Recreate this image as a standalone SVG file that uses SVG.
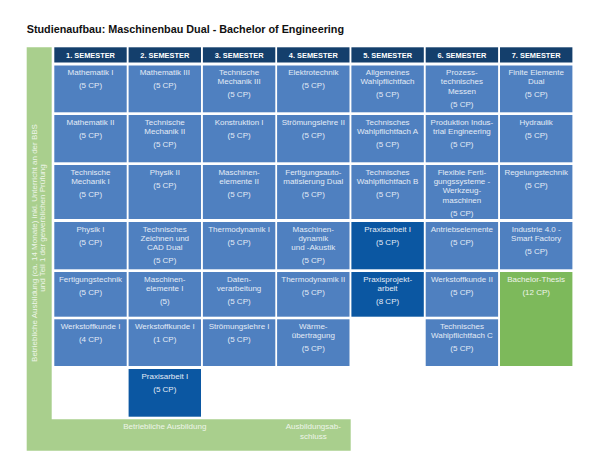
<svg xmlns="http://www.w3.org/2000/svg" width="600" height="456" viewBox="0 0 600 456">
<style>
.bg{fill:#ffffff}
.hd{fill:#143f6c}
.c{fill:#4f80c0}
.d{fill:#0b57a2}
.g{fill:#7db95b}
.lg{fill:#a9cf8d}
.ht{font-family:"Liberation Sans",Arial,sans-serif;font-size:7.4px;font-weight:bold;fill:#ffffff;text-anchor:middle}
.t{font-family:"Liberation Sans",Arial,sans-serif;font-size:8px;fill:#e3ebf6;text-anchor:middle}
.gt{font-family:"Liberation Sans",Arial,sans-serif;font-size:8px;fill:#eef5e9;text-anchor:middle}
.title{font-family:"Liberation Sans",Arial,sans-serif;font-size:10.8px;font-weight:bold;fill:#111111}
</style>
<rect class="bg" x="0" y="0" width="600" height="456"/>
<text class="title" x="26.7" y="32.8">Studienaufbau: Maschinenbau Dual - Bachelor of Engineering</text>

<g id="frame">
<path class="lg" d="M26.7,47.3 H51.7 V419.3 H350.7 V450.7 H26.7 Z"/>
<text class="gt" transform="translate(36.5,243) rotate(-90)">Betriebliche Ausbildung (ca. 14 Monate) inkl. Unterricht an der BBS</text>
<text class="gt" transform="translate(45,228) rotate(-90)">und Teil 1 der gewerblichen Prüfung</text>
<text class="gt" x="164.8" y="428.5">Betriebliche Ausbildung</text>
<text class="gt" x="313.3" y="428.5">Ausbildungsab-</text>
<text class="gt" x="313.3" y="438.5">schluss</text>
</g>

<g id="headers">
<rect class="hd" x="54.3" y="47.3" width="72.4" height="15.2"/><text class="ht" x="90.5" y="57.8">1. SEMESTER</text>
<rect class="hd" x="128.6" y="47.3" width="72.4" height="15.2"/><text class="ht" x="164.8" y="57.8">2. SEMESTER</text>
<rect class="hd" x="202.9" y="47.3" width="72.4" height="15.2"/><text class="ht" x="239.1" y="57.8">3. SEMESTER</text>
<rect class="hd" x="277.1" y="47.3" width="72.4" height="15.2"/><text class="ht" x="313.3" y="57.8">4. SEMESTER</text>
<rect class="hd" x="351.4" y="47.3" width="72.4" height="15.2"/><text class="ht" x="387.6" y="57.8">5. SEMESTER</text>
<rect class="hd" x="425.7" y="47.3" width="72.4" height="15.2"/><text class="ht" x="461.9" y="57.8">6. SEMESTER</text>
<rect class="hd" x="500" y="47.3" width="72.4" height="15.2"/><text class="ht" x="536.2" y="57.8">7. SEMESTER</text>
</g>

<!-- Column 1 -->
<g id="s1-mathe1"><rect class="c" x="54.3" y="65.5" width="72.4" height="46.8"/><text class="t" x="90.5" y="75">Mathematik I</text><text class="t" x="90.5" y="88">(5 CP)</text></g>
<g id="s1-mathe2"><rect class="c" x="54.3" y="115" width="72.4" height="47.3"/><text class="t" x="90.5" y="124.5">Mathematik II</text><text class="t" x="90.5" y="137.5">(5 CP)</text></g>
<g id="s1-tm1"><rect class="c" x="54.3" y="165" width="72.4" height="54"/><text class="t" x="90.5" y="174.5">Technische</text><text class="t" x="90.5" y="183.9">Mechanik I</text><text class="t" x="90.5" y="196.9">(5 CP)</text></g>
<g id="s1-physik1"><rect class="c" x="54.3" y="222" width="72.4" height="47.3"/><text class="t" x="90.5" y="231.5">Physik I</text><text class="t" x="90.5" y="244.5">(5 CP)</text></g>
<g id="s1-fertigung"><rect class="c" x="54.3" y="272" width="72.4" height="44.7"/><text class="t" x="90.5" y="281.5">Fertigungstechnik</text><text class="t" x="90.5" y="294.5">(5 CP)</text></g>
<g id="s1-werkstoff1"><rect class="c" x="54.3" y="319.3" width="72.4" height="46.7"/><text class="t" x="90.5" y="328.8">Werkstoffkunde I</text><text class="t" x="90.5" y="341.8">(4 CP)</text></g>

<!-- Column 2 -->
<g id="s2-mathe3"><rect class="c" x="128.6" y="65.5" width="72.4" height="46.8"/><text class="t" x="164.8" y="75">Mathematik III</text><text class="t" x="164.8" y="88">(5 CP)</text></g>
<g id="s2-tm2"><rect class="c" x="128.6" y="115" width="72.4" height="47.3"/><text class="t" x="164.8" y="124.5">Technische</text><text class="t" x="164.8" y="133.9">Mechanik II</text><text class="t" x="164.8" y="146.9">(5 CP)</text></g>
<g id="s2-physik2"><rect class="c" x="128.6" y="165" width="72.4" height="54"/><text class="t" x="164.8" y="174.5">Physik II</text><text class="t" x="164.8" y="187.5">(5 CP)</text></g>
<g id="s2-cad"><rect class="c" x="128.6" y="222" width="72.4" height="47.3"/><text class="t" x="164.8" y="231.5">Technisches</text><text class="t" x="164.8" y="240.9">Zeichnen und</text><text class="t" x="164.8" y="250.3">CAD Dual</text><text class="t" x="164.8" y="263.3">(5 CP)</text></g>
<g id="s2-me1"><rect class="c" x="128.6" y="272" width="72.4" height="44.7"/><text class="t" x="164.8" y="281.5">Maschinen-</text><text class="t" x="164.8" y="290.9">elemente I</text><text class="t" x="164.8" y="303.9">(5)</text></g>
<g id="s2-werkstoff1"><rect class="c" x="128.6" y="319.3" width="72.4" height="46.7"/><text class="t" x="164.8" y="328.8">Werkstoffkunde I</text><text class="t" x="164.8" y="341.8">(1 CP)</text></g>
<g id="s2-praxis1"><rect class="d" x="128.6" y="369" width="72.4" height="47.7"/><text class="t" x="164.8" y="378.5">Praxisarbeit I</text><text class="t" x="164.8" y="391.5">(5 CP)</text></g>

<!-- Column 3 -->
<g id="s3-tm3"><rect class="c" x="202.9" y="65.5" width="72.4" height="46.8"/><text class="t" x="239.1" y="75">Technische</text><text class="t" x="239.1" y="84.4">Mechanik III</text><text class="t" x="239.1" y="97.4">(5 CP)</text></g>
<g id="s3-konstruktion1"><rect class="c" x="202.9" y="115" width="72.4" height="47.3"/><text class="t" x="239.1" y="124.5">Konstruktion I</text><text class="t" x="239.1" y="137.5">(5 CP)</text></g>
<g id="s3-me2"><rect class="c" x="202.9" y="165" width="72.4" height="54"/><text class="t" x="239.1" y="174.5">Maschinen-</text><text class="t" x="239.1" y="183.9">elemente II</text><text class="t" x="239.1" y="196.9">(5 CP)</text></g>
<g id="s3-thermo1"><rect class="c" x="202.9" y="222" width="72.4" height="47.3"/><text class="t" x="239.1" y="231.5">Thermodynamik I</text><text class="t" x="239.1" y="244.5">(5 CP)</text></g>
<g id="s3-daten"><rect class="c" x="202.9" y="272" width="72.4" height="44.7"/><text class="t" x="239.1" y="281.5">Daten-</text><text class="t" x="239.1" y="290.9">verarbeitung</text><text class="t" x="239.1" y="303.9">(5 CP)</text></g>
<g id="s3-stroemung1"><rect class="c" x="202.9" y="319.3" width="72.4" height="46.7"/><text class="t" x="239.1" y="328.8">Strömungslehre I</text><text class="t" x="239.1" y="341.8">(5 CP)</text></g>

<!-- Column 4 -->
<g id="s4-elektro"><rect class="c" x="277.1" y="65.5" width="72.4" height="46.8"/><text class="t" x="313.3" y="75">Elektrotechnik</text><text class="t" x="313.3" y="88">(5 CP)</text></g>
<g id="s4-stroemung2"><rect class="c" x="277.1" y="115" width="72.4" height="47.3"/><text class="t" x="313.3" y="124.5">Strömungslehre II</text><text class="t" x="313.3" y="137.5">(5 CP)</text></g>
<g id="s4-automatisierung"><rect class="c" x="277.1" y="165" width="72.4" height="54"/><text class="t" x="313.3" y="174.5">Fertigungsauto-</text><text class="t" x="313.3" y="183.9">matisierung Dual</text><text class="t" x="313.3" y="196.9">(5 CP)</text></g>
<g id="s4-dynamik"><rect class="c" x="277.1" y="222" width="72.4" height="47.3"/><text class="t" x="313.3" y="231.5">Maschinen-</text><text class="t" x="313.3" y="240.9">dynamik</text><text class="t" x="313.3" y="250.3">und -Akustik</text><text class="t" x="313.3" y="263.3">(5 CP)</text></g>
<g id="s4-thermo2"><rect class="c" x="277.1" y="272" width="72.4" height="44.7"/><text class="t" x="313.3" y="281.5">Thermodynamik II</text><text class="t" x="313.3" y="294.5">(5 CP)</text></g>
<g id="s4-waerme"><rect class="c" x="277.1" y="319.3" width="72.4" height="46.7"/><text class="t" x="313.3" y="328.8">Wärme-</text><text class="t" x="313.3" y="338.2">übertragung</text><text class="t" x="313.3" y="351.2">(5 CP)</text></g>

<!-- Column 5 -->
<g id="s5-allgwpf"><rect class="c" x="351.4" y="65.5" width="72.4" height="46.8"/><text class="t" x="387.6" y="75">Allgemeines</text><text class="t" x="387.6" y="84.4">Wahlpflichtfach</text><text class="t" x="387.6" y="97.4">(5 CP)</text></g>
<g id="s5-wpfa"><rect class="c" x="351.4" y="115" width="72.4" height="47.3"/><text class="t" x="387.6" y="124.5">Technisches</text><text class="t" x="387.6" y="133.9">Wahlpflichtfach A</text><text class="t" x="387.6" y="146.9">(5 CP)</text></g>
<g id="s5-wpfb"><rect class="c" x="351.4" y="165" width="72.4" height="54"/><text class="t" x="387.6" y="174.5">Technisches</text><text class="t" x="387.6" y="183.9">Wahlpflichtfach B</text><text class="t" x="387.6" y="196.9">(5 CP)</text></g>
<g id="s5-praxis1"><rect class="d" x="351.4" y="222" width="72.4" height="47.3"/><text class="t" x="387.6" y="231.5">Praxisarbeit I</text><text class="t" x="387.6" y="244.5">(5 CP)</text></g>
<g id="s5-praxisprojekt"><rect class="d" x="351.4" y="272" width="72.4" height="44.7"/><text class="t" x="387.6" y="281.5">Praxisprojekt-</text><text class="t" x="387.6" y="290.9">arbeit</text><text class="t" x="387.6" y="303.9">(8 CP)</text></g>

<!-- Column 6 -->
<g id="s6-messen"><rect class="c" x="425.7" y="65.5" width="72.4" height="46.8"/><text class="t" x="461.9" y="75">Prozess-</text><text class="t" x="461.9" y="84.4">technisches</text><text class="t" x="461.9" y="93.8">Messen</text><text class="t" x="461.9" y="106.8">(5 CP)</text></g>
<g id="s6-produktion"><rect class="c" x="425.7" y="115" width="72.4" height="47.3"/><text class="t" x="461.9" y="124.5">Produktion Indus-</text><text class="t" x="461.9" y="133.9">trial Engineering</text><text class="t" x="461.9" y="146.9">(5 CP)</text></g>
<g id="s6-flexibel"><rect class="c" x="425.7" y="165" width="72.4" height="54"/><text class="t" x="461.9" y="174.5">Flexible Ferti-</text><text class="t" x="461.9" y="183.9">gungssysteme -</text><text class="t" x="461.9" y="193.3">Werkzeug-</text><text class="t" x="461.9" y="202.7">maschinen</text><text class="t" x="461.9" y="215.7">(5 CP)</text></g>
<g id="s6-antrieb"><rect class="c" x="425.7" y="222" width="72.4" height="47.3"/><text class="t" x="461.9" y="231.5">Antriebselemente</text><text class="t" x="461.9" y="244.5">(5 CP)</text></g>
<g id="s6-werkstoff2"><rect class="c" x="425.7" y="272" width="72.4" height="44.7"/><text class="t" x="461.9" y="281.5">Werkstoffkunde II</text><text class="t" x="461.9" y="294.5">(5 CP)</text></g>
<g id="s6-wpfc"><rect class="c" x="425.7" y="319.3" width="72.4" height="46.7"/><text class="t" x="461.9" y="328.8">Technisches</text><text class="t" x="461.9" y="338.2">Wahlpflichtfach C</text><text class="t" x="461.9" y="351.2">(5 CP)</text></g>

<!-- Column 7 -->
<g id="s7-fem"><rect class="c" x="500" y="65.5" width="72.4" height="46.8"/><text class="t" x="536.2" y="75">Finite Elemente</text><text class="t" x="536.2" y="84.4">Dual</text><text class="t" x="536.2" y="97.4">(5 CP)</text></g>
<g id="s7-hydraulik"><rect class="c" x="500" y="115" width="72.4" height="47.3"/><text class="t" x="536.2" y="124.5">Hydraulik</text><text class="t" x="536.2" y="137.5">(5 CP)</text></g>
<g id="s7-regelung"><rect class="c" x="500" y="165" width="72.4" height="54"/><text class="t" x="536.2" y="174.5">Regelungstechnik</text><text class="t" x="536.2" y="187.5">(5 CP)</text></g>
<g id="s7-industrie"><rect class="c" x="500" y="222" width="72.4" height="47.3"/><text class="t" x="536.2" y="231.5">Industrie 4.0 -</text><text class="t" x="536.2" y="240.9">Smart Factory</text><text class="t" x="536.2" y="253.9">(5 CP)</text></g>
<g id="s7-thesis"><rect class="g" x="500" y="272" width="72.4" height="94"/><text class="gt" x="536.2" y="281.5">Bachelor-Thesis</text><text class="gt" x="536.2" y="294.5">(12 CP)</text></g>
</svg>
